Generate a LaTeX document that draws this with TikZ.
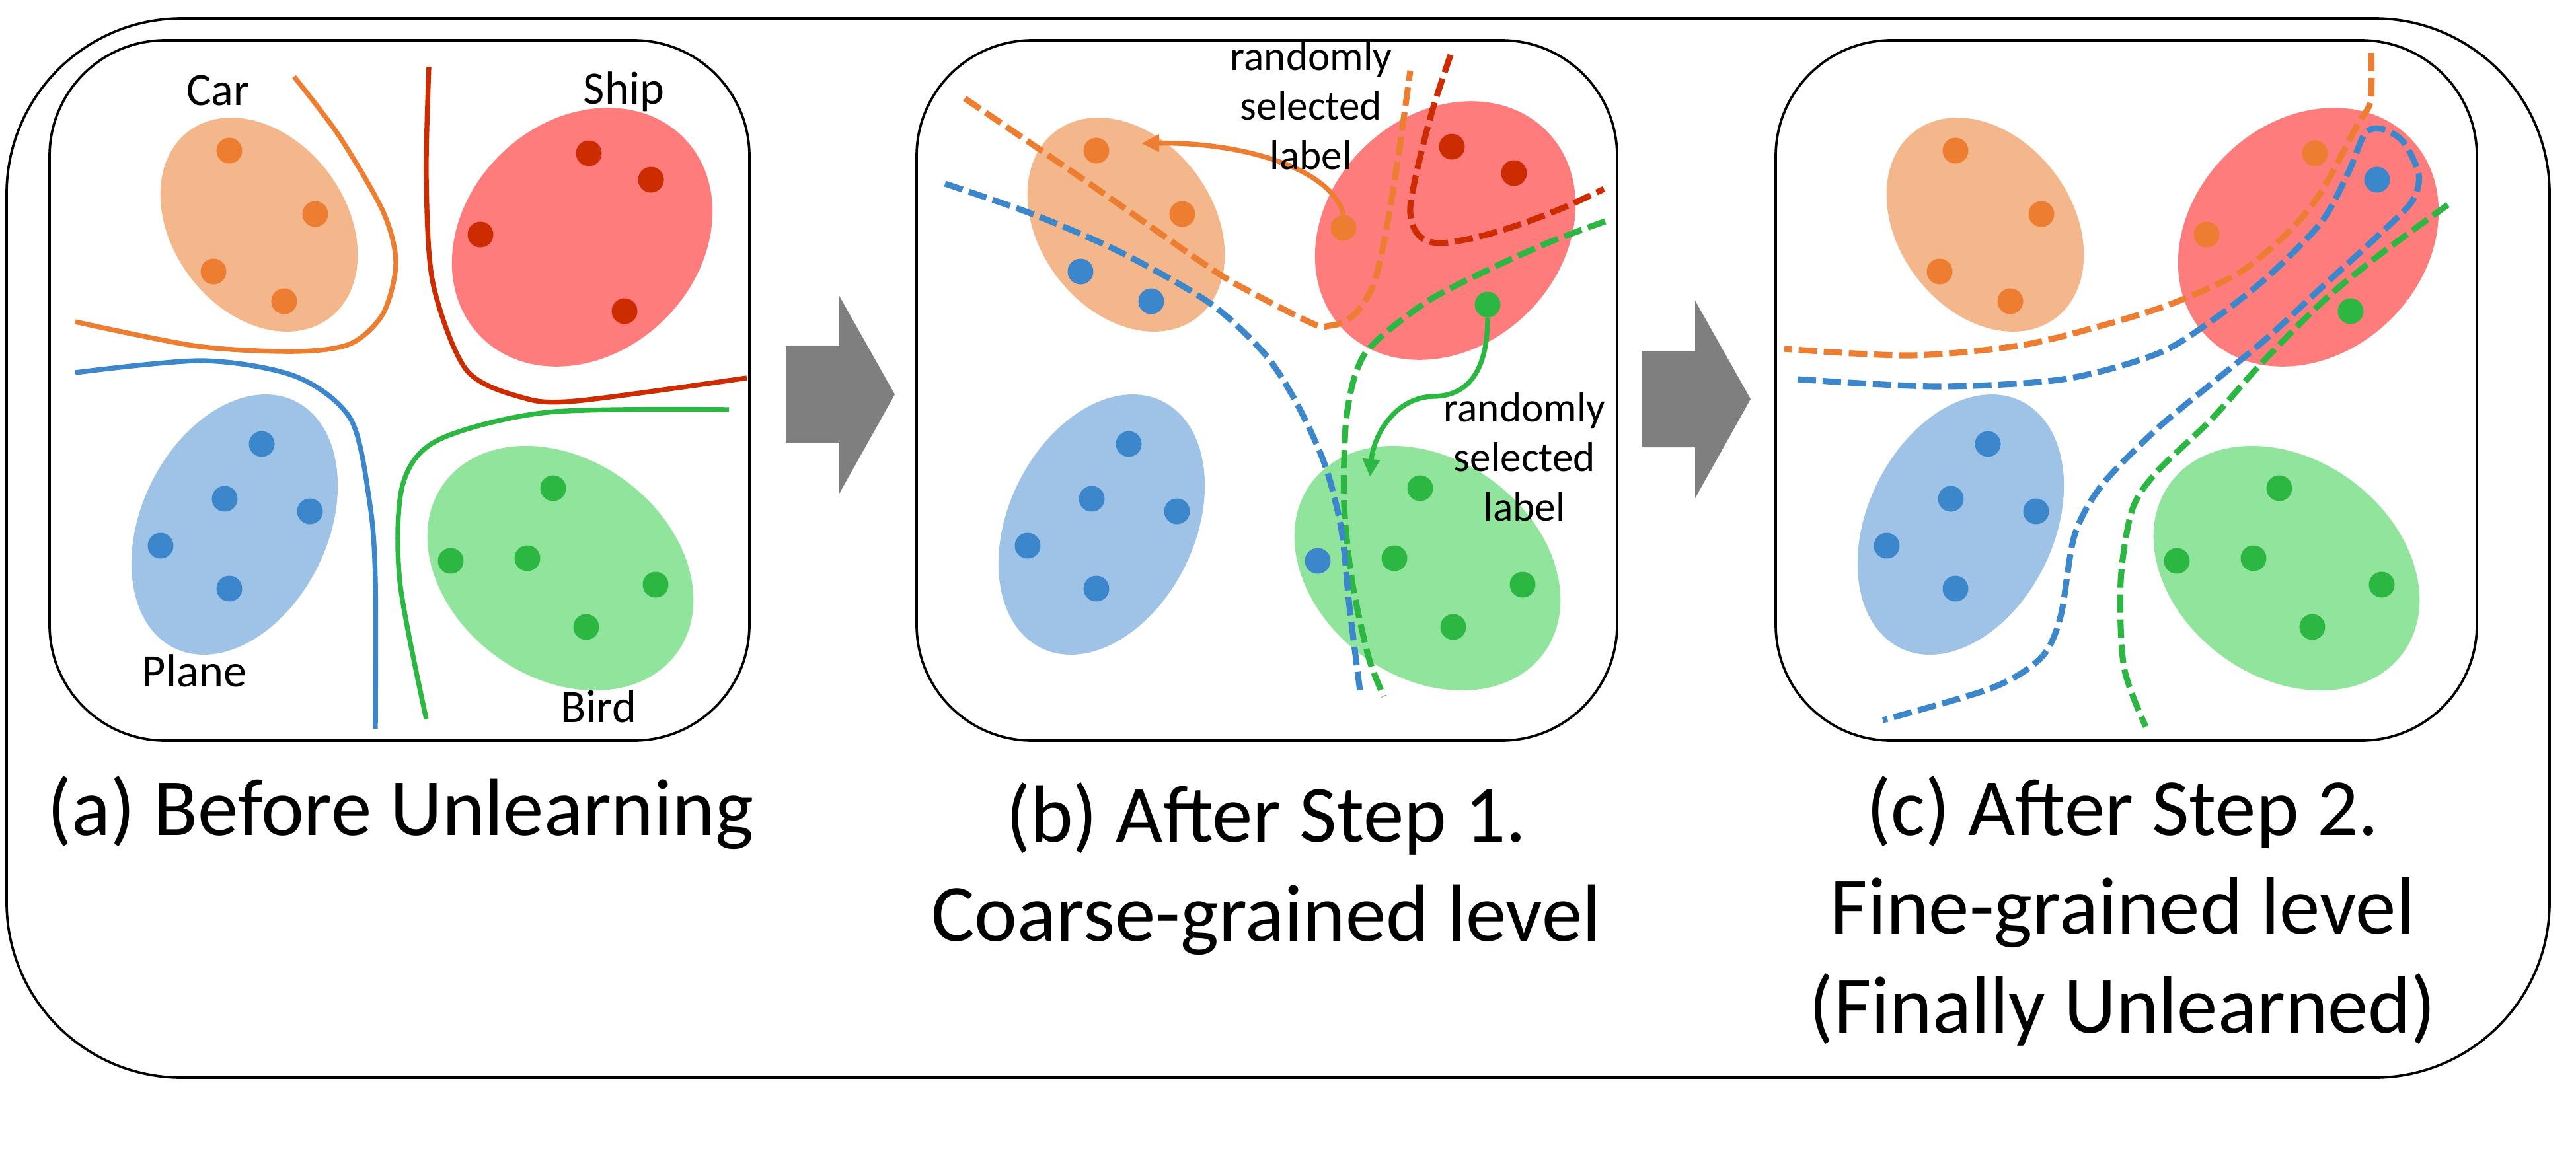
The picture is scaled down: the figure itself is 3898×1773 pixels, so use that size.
\documentclass[tikz,border=0pt]{standalone}
\usepackage{fontspec}
\setmainfont{Carlito}
\usetikzlibrary{arrows.meta}

\definecolor{carfill}{HTML}{F4B78B}
\definecolor{shipfill}{HTML}{FF7C7C}
\definecolor{planefill}{HTML}{9FC3E6}
\definecolor{birdfill}{HTML}{90E49B}
\definecolor{carc}{HTML}{ED7D31}
\definecolor{shipc}{HTML}{CD2B00}
\definecolor{planec}{HTML}{3C86CC}
\definecolor{birdc}{HTML}{2CB742}
\definecolor{arrowgray}{HTML}{7F7F7F}

\tikzset{
  panelbox/.style={draw=black, line width=1.05pt, rounded corners=17.5mm},
  outerbox/.style={draw=black, line width=1.05pt, rounded corners=26.5mm},
  ptnode/.style={circle, draw=none, inner sep=0pt, minimum size=3.9mm},
  bound/.style={line width=2.1pt},
  cut/.style={line width=2.6pt, dash pattern=on 2.8mm off 1.0mm},
  pick/.style={line width=2.1pt, -{Triangle[length=2.7mm, width=2.5mm]}},
  caption/.style={font=\fontsize{35}{42.5}\selectfont, align=center, anchor=base, inner sep=0pt},
  classname/.style={font=\fontsize{20}{24}\selectfont, anchor=base, inner sep=0pt},
  note/.style={font=\fontsize{18}{21.3}\selectfont, align=center, anchor=base, inner sep=0pt}
}

\newcommand{\blob}[6]{\fill[#6, rotate around={#5:(#1,#2)}] (#1,#2) ellipse [x radius=#3, y radius=#4];}
\newcommand{\clusters}[2]{%
  \blob{392}{340}{17.7mm}{13.1mm}{-53}{carfill}
  \blob{881+#1}{359+#2}{21.5mm}{17.6mm}{44}{shipfill}
  \blob{355}{794}{20.8mm}{14.1mm}{64}{planefill}
  \blob{848}{860}{21.8mm}{16.5mm}{-36}{birdfill}}
\newcommand{\datapt}[4]{\node[ptnode, fill=#4] (#1) at (#2,#3) {};}
\newcommand{\steparrow}[2]{\fill[arrowgray] (#1,#2) -- ++(81,0) -- ++(0,-76) -- ++(84,149) -- ++(-84,150) -- ++(0,-77) -- ++(-81,0) -- cycle;}

\begin{document}
\begin{tikzpicture}[x=0.1mm, y=-0.1mm]
  \useasboundingbox (0,0) rectangle (3898,1773);
  % frame
  \draw[outerbox] (10,28) rectangle (3858,1631);
  \draw[panelbox] (75,61) rectangle (1134,1121);
  \draw[panelbox] (1387,61) rectangle (2447,1121);
  \draw[panelbox] (2687,61) rectangle (3748,1121);
  \steparrow{1189}{524}
  \steparrow{2484}{531}

  % panel (a)
  \clusters{0}{0}
  \foreach \x/\y [count=\i] in {347/228, 477/324, 323/411, 430/456} \datapt{a-car\i}{\x}{\y}{carc};
  \foreach \x/\y [count=\i] in {891/232, 985/272, 727/355, 945/471} \datapt{a-ship\i}{\x}{\y}{shipc};
  \foreach \x/\y [count=\i] in {396/672, 340/755, 469/774, 243/826, 347/891} \datapt{a-plane\i}{\x}{\y}{planec};
  \foreach \x/\y [count=\i] in {837/739, 682/849, 798/845, 992/885, 887/949} \datapt{a-bird\i}{\x}{\y}{birdc};
  \draw[bound, carc] plot[smooth] coordinates {(445,116) (514,207) (580,321) (599,398) (580,474) (531,520) (448,532) (299,524) (114,487)};
  \draw[bound, shipc] plot[smooth] coordinates {(649,101) (645,268) (655,428) (705,559) (788,601) (871,607) (1130,572)};
  \draw[bound, planec] plot[smooth] coordinates {(114,564) (307,546) (448,570) (531,635) (560,765) (568,880) (568,1103)};
  \draw[bound, birdc] plot[smooth] coordinates {(1103,620) (829,624) (663,666) (609,735) (605,880) (645,1088)};
  \node[classname] (carname) at (330,159) {Car};
  \node[classname] (shipname) at (944,157) {Ship};
  \node[classname] (planename) at (294,1039) {Plane};
  \node[classname] (birdname) at (906,1093) {Bird};

  % panel (b)
  \begin{scope}[xshift=131.2mm]
    \clusters{-6}{-10}
    \foreach \x/\y/\c [count=\i] in {347/228/carc, 477/324/carc, 323/411/planec, 430/456/planec} \datapt{b-car\i}{\x}{\y}{\c};
    \foreach \x/\y/\c [count=\i] in {885/222/shipc, 979/262/shipc, 721/345/carc, 939/461/birdc} \datapt{b-ship\i}{\x}{\y}{\c};
    \foreach \x/\y [count=\i] in {396/672, 340/755, 469/774, 243/826, 347/891} \datapt{b-plane\i}{\x}{\y}{planec};
    \foreach \x/\y/\c [count=\i] in {837/739/birdc, 682/849/planec, 798/845/birdc, 992/885/birdc, 887/949/birdc} \datapt{b-bird\i}{\x}{\y}{\c};
  \end{scope}
  \draw[cut, carc] plot[smooth] coordinates {(1460,149) (1640,272) (1830,405) (1900,446) (1989,491) (2012,493) (2034,487) (2056,469) (2079,429) (2096,357) (2114,250) (2134,107)};
  \draw[cut, shipc] plot[smooth] coordinates {(2195,83) (2168,165) (2146,250) (2134,313) (2139,344) (2154,362) (2181,368) (2235,359) (2302,339) (2369,313) (2427,286)};
  \draw[cut, birdc] plot[smooth] coordinates {(2429,335) (2346,366) (2257,406) (2168,451) (2101,500) (2065,536) (2047,580) (2036,647) (2034,765) (2046,880) (2071,995) (2094,1054)};
  \draw[cut, planec] plot[smooth] coordinates {(1430,278) (1565,325) (1698,383) (1831,459) (1914,536) (1963,612) (2005,704) (2030,803) (2042,918) (2059,1054)};
  \coordinate (b-tip1) at (1727,217);
  \coordinate (b-tip2) at (2073,722);
  \draw[pick, carc] (b-ship3.north) .. controls (2015,255) and (1880,215) .. (b-tip1);
  \draw[pick, birdc] (b-ship4.south) .. controls (2251,570) and (2215,600) .. (2168,600)
    .. controls (2110,602) and (2078,660) .. (b-tip2);
  \node[note] (note1) at (1984,256) {randomly\\selected\\label};
  \node[note] (note2) at (2307,788) {randomly\\selected\\label};

  % panel (c)
  \begin{scope}[xshift=261.2mm]
    \clusters{0}{0}
    \foreach \x/\y [count=\i] in {347/228, 477/324, 323/411, 430/456} \datapt{c-car\i}{\x}{\y}{carc};
    \foreach \x/\y/\c [count=\i] in {891/232/carc, 985/272/planec, 727/355/carc, 945/471/birdc} \datapt{c-ship\i}{\x}{\y}{\c};
    \foreach \x/\y [count=\i] in {396/672, 340/755, 469/774, 243/826, 347/891} \datapt{c-plane\i}{\x}{\y}{planec};
    \foreach \x/\y [count=\i] in {837/739, 682/849, 798/845, 992/885, 887/949} \datapt{c-bird\i}{\x}{\y}{birdc};
  \end{scope}
  \draw[cut, carc] plot[smooth] coordinates {(3588,80) (3587,153) (3566,191) (3512,291) (3462,352) (3388,413) (3288,459) (3180,493) (3056,523) (2890,538) (2700,528)};
  \draw[cut, planec] plot[smooth] coordinates {(2720,574) (2932,585) (3122,574) (3263,536) (3346,486) (3429,421) (3512,337) (3554,260) (3578,203) (3603,195) (3636,214) (3660,264) (3649,306) (3595,360) (3512,436) (3429,513) (3346,581) (3263,650) (3180,735) (3139,811) (3118,933) (3089,995) (3015,1041) (2849,1090)};
  \draw[cut, birdc] plot[smooth] coordinates {(3704,310) (3595,390) (3512,459) (3421,551) (3346,635) (3263,715) (3226,773) (3209,880) (3214,1010) (3247,1100)};

  % captions
  \node[caption] (capa) at (606,1264) {(a) Before Unlearning};
  \node[caption] (capb) at (1916,1424) {(b) After Step 1.\\Coarse-grained level};
  \node[caption] (capc) at (3212,1563) {(c) After Step 2.\\Fine-grained level\\(Finally Unlearned)};
\end{tikzpicture}
\end{document}
